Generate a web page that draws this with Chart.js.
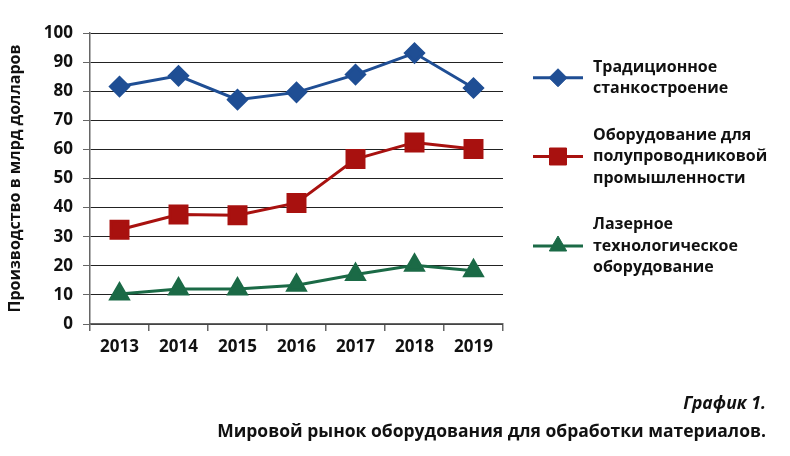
<!DOCTYPE html>
<html>
<head>
<meta charset="utf-8">
<script src="https://cdn.jsdelivr.net/npm/chart.js@4.4.1/dist/chart.umd.min.js"></script>
<style>
  body { margin: 0; background: #fff; }
  #wrap { position: relative; width: 790px; height: 456px; font-family: "Open Sans", "Noto Sans", sans-serif; }
  #chart { position: absolute; left: 0; top: 0; }
  .cap { position: absolute; right: 24px; font-weight: bold; font-size: 17.5px; color: #111; white-space: nowrap; }
  #capNum { top: 390px; font-style: italic; }
  #capText { top: 418px; }
</style>
</head>
<body>
<div id="wrap">
  <canvas id="chart" width="790" height="456"></canvas>
  <div class="cap" id="capNum">График 1.</div>
  <div class="cap" id="capText">Мировой рынок оборудования для обработки материалов.</div>
</div>
<script>
var years = ['2013', '2014', '2015', '2016', '2017', '2018', '2019'];
var traditional = [81.6, 85.3, 77.1, 79.6, 85.7, 93.1, 81.1];
var semiconductor = [32.4, 37.6, 37.4, 41.6, 56.7, 62.4, 60.1];
var laser = [10.3, 12.0, 12.0, 13.3, 17.0, 20.2, 18.3];
var seriesNames = [
	['Традиционное', 'станкостроение'],
	['Оборудование для', 'полупроводниковой', 'промышленности'],
	['Лазерное', 'технологическое', 'оборудование']
];
var yTitle = 'Производство в млрд долларов';
var yMin = 0, yMax = 100, yStep = 10;

var font = '"Open Sans", "Noto Sans", sans-serif';

// legend drawn by hand because labels wrap over several lines
var sideLegend = {
	id: 'sideLegend',
	afterDraw: function(chart) {
		var ctx = chart.ctx;
		var y = 67;
		ctx.save();
		chart.data.datasets.forEach(function(ds) {
			var lines = ds.legendLines;
			var mid = y + (lines.length - 1) * 21.5 / 2;
			ctx.strokeStyle = ds.borderColor;
			ctx.lineWidth = 3;
			ctx.beginPath();
			ctx.moveTo(533, mid);
			ctx.lineTo(583, mid);
			ctx.stroke();
			ctx.fillStyle = ds.backgroundColor;
			ctx.lineWidth = 1;
			Chart.helpers.drawPoint(ctx, {
				pointStyle: ds.pointStyle,
				radius: ds.pointRadius,
				rotation: 0,
				borderWidth: 1
			}, 558, mid);
			ctx.fillStyle = '#111';
			ctx.font = 'bold 16px ' + font;
			ctx.textBaseline = 'middle';
			lines.forEach(function(t, i) {
				ctx.fillText(t, 593, y + i * 21.5);
			});
			y += (lines.length - 1) * 21.5 + 46.5;
		});
		ctx.restore();
	}
};

var ctx = document.getElementById('chart');
var chart = new Chart(ctx, {
	type: 'line',
	data: {
		labels: years,
		datasets: [
			{ label: seriesNames[0].join(' '), legendLines: seriesNames[0], data: traditional,
			  borderColor: '#1f4e94', backgroundColor: '#1f4e94', pointStyle: 'rectRot', pointRadius: 9, borderWidth: 3 },
			{ label: seriesNames[1].join(' '), legendLines: seriesNames[1], data: semiconductor,
			  borderColor: '#a8110f', backgroundColor: '#a8110f', pointStyle: 'rect', pointRadius: 12, borderWidth: 3 },
			{ label: seriesNames[2].join(' '), legendLines: seriesNames[2], data: laser,
			  borderColor: '#1b6a46', backgroundColor: '#1b6a46', pointStyle: 'triangle', pointRadius: 10, borderWidth: 3 }
		]
	},
	options: {
		responsive: false,
		animation: false,
		devicePixelRatio: 1,
		layout: { padding: { left: 0, right: 287, top: 33, bottom: 92 } },
		elements: { point: { borderWidth: 1, hoverRadius: 10 }, line: { tension: 0 } },
		plugins: {
			legend: { display: false },
			tooltip: { enabled: false }
		},
		scales: {
			x: {
				offset: true,
				afterFit: function(s) { s.height = 40; },
				border: { display: true, color: '#666', width: 1.5 },
				grid: { offset: true, drawOnChartArea: false, drawTicks: true, tickLength: 7, color: '#666', lineWidth: 1.5 },
				ticks: { color: '#111', padding: 6, font: { family: font, size: 17, weight: 'bold' } }
			},
			y: {
				min: yMin,
				max: yMax,
				afterFit: function(s) { s.width = 90; },
				border: { display: true, color: '#666', width: 1.5 },
				grid: { color: '#222', lineWidth: 1, borderDash: [1.5, 1.5], tickLength: 7, tickColor: '#666', tickBorderDash: [] },
				ticks: { stepSize: yStep, color: '#111', padding: 10, font: { family: font, size: 17, weight: 'bold' } },
				title: { display: true, text: yTitle, color: '#111', padding: { top: 6, bottom: 0 },
					font: { family: font, size: 16, weight: 'bold' } }
			}
		}
	},
	plugins: [sideLegend]
});
</script>
</body>
</html>
